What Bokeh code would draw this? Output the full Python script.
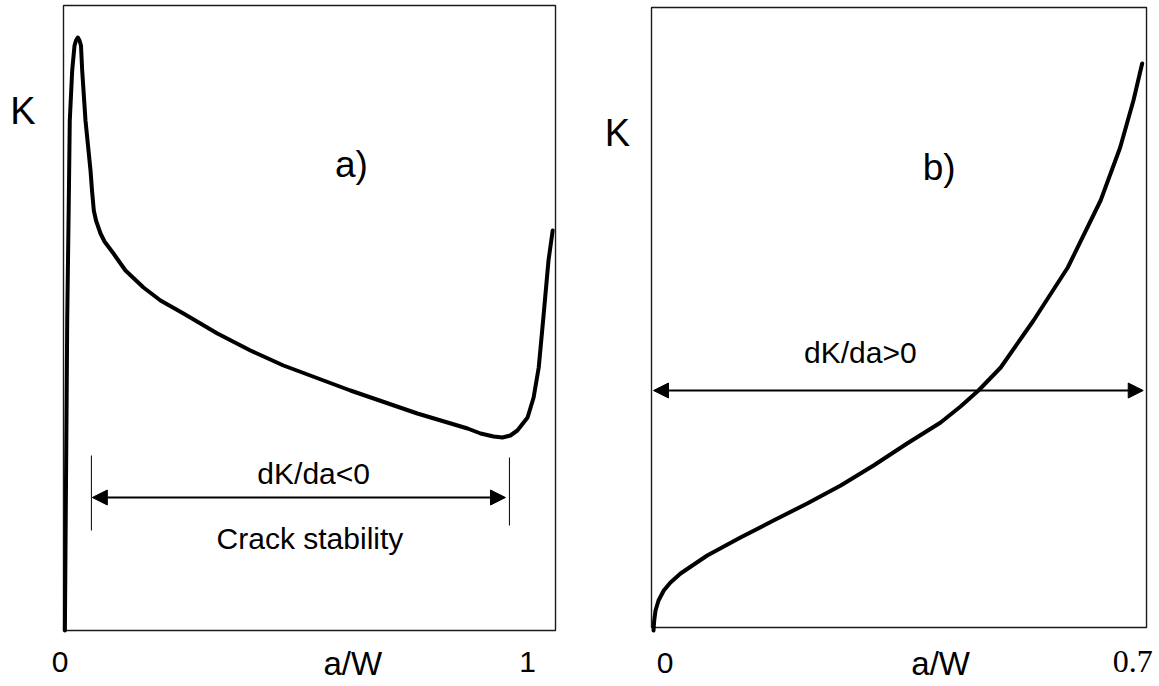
from bokeh.plotting import figure
from bokeh.layouts import row
from bokeh.models import Range1d, Label, Arrow, NormalHead
from bokeh.embed import file_html
from bokeh.resources import INLINE

# ---------------- data ----------------
# panel a) K vs a/W (schematic, arbitrary K units)
a_aw = [0.003, 0.0080, 0.0114, 0.0135, 0.0187, 0.0237, 0.0269, 0.0308, 0.0344, 0.0376,
        0.0402, 0.0473, 0.0581, 0.0613, 0.0652, 0.0699, 0.0796, 0.0882, 0.1075, 0.1333,
        0.172, 0.2086, 0.258, 0.331, 0.402, 0.473, 0.617, 0.761, 0.869, 0.897,
        0.925, 0.944, 0.961, 0.976, 0.998, 1.011, 1.022, 1.032, 1.043, 1.052]
a_k = [0.0, 3.10, 4.30, 5.10, 5.60, 5.85, 5.90, 5.93, 5.90, 5.85,
       5.60, 5.10, 4.60, 4.40, 4.20, 4.10, 3.97, 3.89, 3.77, 3.60,
       3.43, 3.30, 3.17, 2.97, 2.80, 2.65, 2.40, 2.17, 2.02, 1.97,
       1.94, 1.93, 1.95, 2.00, 2.13, 2.33, 2.63, 3.13, 3.70, 4.00]

# panel b) K vs a/W
b_aw = [0.0, 0.001, 0.0029, 0.0072, 0.0147, 0.0243, 0.0387, 0.0769, 0.1245, 0.1718,
        0.220, 0.268, 0.315, 0.363, 0.411, 0.4395, 0.4652, 0.497, 0.544, 0.593,
        0.640, 0.668, 0.687, 0.6995]
b_k = [-0.03, 0.07, 0.17, 0.27, 0.37, 0.45, 0.54, 0.72, 0.90, 1.07,
       1.24, 1.42, 1.62, 1.84, 2.05, 2.21, 2.37, 2.60, 3.07, 3.60,
       4.27, 4.80, 5.27, 5.64]

# panel boxes (a/W and K extents of each panel)
a_box = dict(left=0.0, right=1.0581, bottom=0.0, top=6.25)
b_box = dict(left=-0.00286, right=0.70573, bottom=0.0, top=6.20)

# stability range markers (panel a)
a_range = [0.062, 0.9505]
a_range_k = 1.33
a_ticks_x = [0.060, 0.959]
a_ticks_y0 = [1.00, 1.05]
a_ticks_y1 = [1.75, 1.73]

# range arrow (panel b)
b_range = [0.0, 0.701]
b_range_k = 2.37

a_tick_labels = ["0", "1"]
a_tick_pos = [-0.0075, 0.998]
b_tick_labels = ["0", "0.7"]
b_tick_pos = [0.0165, 0.686]

SANS = "Liberation Sans"
SERIF = "Liberation Serif"


def make_fig(width, height, xr, yr):
    p = figure(width=width, height=height, x_range=Range1d(*xr), y_range=Range1d(*yr),
               x_axis_location=None, y_axis_location=None, toolbar_location=None,
               output_backend="svg", min_border=0)
    p.grid.visible = False
    p.outline_line_color = None
    p.background_fill_color = "white"
    p.border_fill_color = "white"
    return p


def label(p, x, y, text, size, font=SANS):
    p.add_layout(Label(x=x, y=y, text=text, text_align="center", text_baseline="middle",
                       text_font=font, text_font_size=f"{size}px", text_color="black"))


# ---------------- panel a ----------------
p1 = make_fig(600, 684, (-0.13548, 1.15484), (-0.54, 6.30))
p1.quad(left=[a_box["left"]], right=[a_box["right"]], bottom=[a_box["bottom"]], top=[a_box["top"]],
        fill_color=None, line_color="#1a1a1a", line_width=1.4)
p1.line(a_aw, a_k, line_width=4, line_color="black", line_join="round", line_cap="round")
p1.segment(x0=a_ticks_x, y0=a_ticks_y0, x1=a_ticks_x, y1=a_ticks_y1,
           line_color="black", line_width=1)
p1.add_layout(Arrow(x_start=a_range[0], y_start=a_range_k, x_end=a_range[1], y_end=a_range_k,
                    line_width=2, line_color="black",
                    start=NormalHead(size=15, fill_color="black", line_color="black"),
                    end=NormalHead(size=15, fill_color="black", line_color="black")))
label(p1, -0.087, 5.20, "K", 38)
label(p1, 0.619, 4.66, "a)", 37)
label(p1, 0.538, 1.57, "dK/da<0", 30)
label(p1, 0.530, 0.92, "Crack stability", 30)
for t, x in zip(a_tick_labels, a_tick_pos):
    label(p1, x, -0.31, t, 30)
label(p1, 0.622, -0.33, "a/W", 33)

# ---------------- panel b ----------------
p2 = make_fig(557, 684, (-0.07587, 0.72144), (-0.57, 6.27))
p2.quad(left=[b_box["left"]], right=[b_box["right"]], bottom=[b_box["bottom"]], top=[b_box["top"]],
        fill_color=None, line_color="#1a1a1a", line_width=1.4)
p2.line(b_aw, b_k, line_width=4, line_color="black", line_join="round", line_cap="round")
p2.add_layout(Arrow(x_start=b_range[0], y_start=b_range_k, x_end=b_range[1], y_end=b_range_k,
                    line_width=2, line_color="black",
                    start=NormalHead(size=15, fill_color="black", line_color="black"),
                    end=NormalHead(size=15, fill_color="black", line_color="black")))
label(p2, -0.0515, 4.95, "K", 38)
label(p2, 0.409, 4.60, "b)", 37)
label(p2, 0.296, 2.75, "dK/da>0", 30)
label(p2, b_tick_pos[0], -0.35, b_tick_labels[0], 30)
label(p2, b_tick_pos[1], -0.34, b_tick_labels[1], 32, SERIF)
label(p2, 0.411, -0.36, "a/W", 33)

layout = row(p1, p2)
open("out.html", "w").write(file_html(layout, INLINE))
